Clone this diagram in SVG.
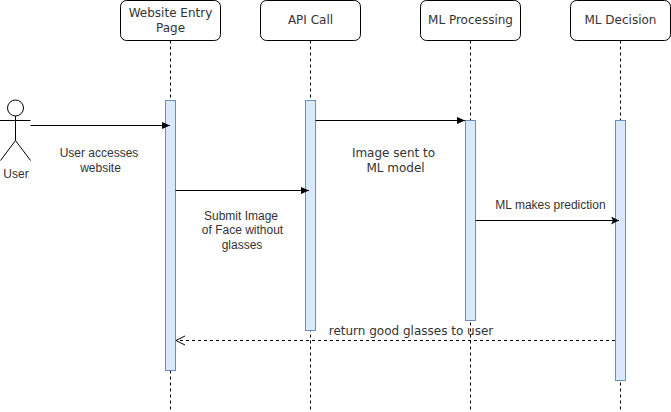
<svg xmlns="http://www.w3.org/2000/svg" width="671" height="412" viewBox="0 0 671 412">
<style>
.box{fill:#fff;stroke:#000;stroke-width:1}
.life{fill:none;stroke:#000;stroke-width:1;stroke-dasharray:3 3}
.act{fill:#dae8fc;stroke:#6c8ebf;stroke-width:1}
.msg{fill:none;stroke:#000;stroke-width:1}
.dash{stroke-dasharray:3 3}
.actor{fill:#fff;stroke:#000;stroke-width:1}
text{fill:#333;text-anchor:middle}
.v{font-family:"DejaVu Sans",Verdana,sans-serif;font-size:12px}
.a{font-family:"Liberation Sans",Arial,sans-serif;font-size:12px}
</style>
<defs>
<marker id="block" markerUnits="userSpaceOnUse" markerWidth="10" markerHeight="10" refX="8" refY="4" orient="auto"><path d="M0 0.5L8 4L0 7.5Z" fill="#000"/></marker>
<marker id="classic" markerUnits="userSpaceOnUse" markerWidth="10" markerHeight="10" refX="8" refY="4" orient="auto"><path d="M0 0L8 4L0 8L2 4Z" fill="#000"/></marker>
<marker id="open" markerUnits="userSpaceOnUse" markerWidth="12" markerHeight="12" refX="9.500" refY="5" orient="auto"><path d="M0.5 0.5L9.500 5L0.5 9.500" fill="none" stroke="#000"/></marker>
</defs>
<rect width="671" height="412" fill="#fff"/>
<g id="lifelines">
<path class="life" d="M170.5 40.5V410"/>
<path class="life" d="M310.5 40.5V410"/>
<path class="life" d="M470.5 40.5V410"/>
<path class="life" d="M620.5 40.5V410"/>
</g>
<g id="node-website"><rect class="box" x="120.5" y="0.5" width="100" height="40" rx="6"/><text class="v" x="170.5" y="17">Website Entry</text><text class="v" x="170.5" y="32">Page</text></g>
<g id="node-api"><rect class="box" x="260.5" y="0.5" width="100" height="40" rx="6"/><text class="v" x="310.5" y="24">API Call</text></g>
<g id="node-processing"><rect class="box" x="420.5" y="0.5" width="100" height="40" rx="6"/><text class="v" x="470.5" y="24">ML Processing</text></g>
<g id="node-decision"><rect class="box" x="570.5" y="0.5" width="100" height="40" rx="6"/><text class="v" x="620.5" y="24">ML Decision</text></g>
<g id="activations">
<rect class="act" x="165.5" y="100.5" width="10" height="270"/>
<rect class="act" x="305.5" y="100.5" width="10" height="230"/>
<rect class="act" x="465.5" y="120.5" width="10" height="200"/>
<rect class="act" x="615.5" y="120.5" width="10" height="260"/>
</g>
<g id="node-user">
<circle class="actor" cx="15.5" cy="108" r="8"/>
<path class="actor" d="M15.5 116V140.5M0 120.5H30.5M15.5 140.5L0.5 160.5M15.5 140.5L30.5 160.5" style="fill:none"/>
<text class="a" x="16" y="178">User</text>
</g>
<g id="connectors">
<path class="msg" marker-end="url(#block)" d="M30.5 125.5H170"/>
<path class="msg" marker-end="url(#block)" d="M175.5 190.5H309"/>
<path class="msg" marker-end="url(#block)" d="M315.5 120.5H465"/>
<path class="msg" marker-end="url(#classic)" d="M475.5 220.5H619"/>
<path class="msg dash" marker-end="url(#open)" d="M615 340.5H176"/>
</g>
<g id="labels">
<text class="a" x="99" y="157">User accesses</text><text class="a" x="100.5" y="172">website</text>
<text class="a" x="241" y="220">Submit Image</text><text class="a" x="242.5" y="234">of Face without</text><text class="a" x="242" y="249">glasses</text>
<text class="v" x="393.500" y="157">Image sent to</text><text class="v" x="395.500" y="172">ML model</text>
<text class="a" x="550.5" y="209">ML makes prediction</text>
<text class="v" x="411" y="335">return good glasses to user</text>
</g>
</svg>
